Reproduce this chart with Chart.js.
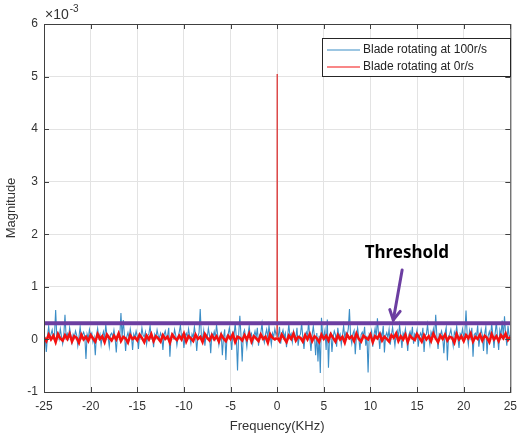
<!DOCTYPE html>
<html>
<head>
<meta charset="utf-8">
<script src="https://cdn.jsdelivr.net/npm/chart.js@4/dist/chart.umd.min.js"></script>
<style>
  html, body { margin: 0; padding: 0; background: #fff; }
  #wrap { position: relative; width: 524px; height: 438px; }
</style>
</head>
<body>
<div id="wrap"><canvas id="c"></canvas></div>
<script>
// frequency grids in KHz
const blueFreq = Array.from({ length: 401 }, (_, i) => -25 + i * 0.125);
const redFreq = Array.from({ length: 201 }, (_, i) => -25 + i * 0.25);

// magnitudes in units of 1e-3
const blueMag = [
  0.08,0.02,-0.24,0.06,0.25,0.04,0.10,0.18,0.03,0.07,0.56,0.05,0.12,0.01,0.20,0.06,-0.08,0.09,0.47,0.04,
  0.11,0.02,0.22,0.07,-0.06,0.10,0.04,0.16,0.08,-0.12,0.05,0.24,0.03,0.09,0.14,0.06,-0.37,0.10,0.02,0.19,
  0.07,0.12,-0.05,0.04,-0.30,0.08,0.21,0.03,0.10,-0.10,0.06,0.15,0.02,0.28,0.07,0.04,-0.14,0.09,0.12,0.05,
  0.18,0.03,-0.25,0.08,0.11,0.06,0.50,0.04,0.37,0.09,-0.22,0.05,0.13,0.02,0.20,0.07,-0.20,0.10,0.04,0.16,
  0.06,-0.18,0.09,0.03,0.22,0.08,0.05,0.14,-0.09,0.07,0.11,0.26,0.02,0.06,-0.15,0.10,0.04,0.18,0.07,0.03,
  0.12,0.05,-0.20,0.09,0.16,0.04,0.07,0.22,-0.33,0.06,0.10,0.03,0.19,0.08,-0.11,0.05,0.14,0.27,0.04,0.09,
  -0.16,0.07,0.12,0.03,0.20,0.06,-0.08,0.10,0.04,0.24,0.08,-0.22,0.05,0.13,0.58,0.06,0.02,0.17,-0.12,0.09,
  0.04,0.21,0.07,-0.26,0.11,0.05,0.15,0.03,0.28,0.08,-0.10,0.06,0.12,-0.30,0.04,0.19,-0.39,0.07,0.10,0.22,
  0.05,-0.20,0.13,0.08,0.30,0.04,-0.59,0.10,0.45,0.06,-0.42,0.12,0.18,0.03,-0.14,0.09,0.25,0.05,0.11,-0.08,
  0.07,0.16,0.04,0.22,-0.12,0.08,0.13,0.30,0.05,-0.06,0.10,0.19,0.03,0.26,0.07,-0.10,0.12,0.05,0.20,0.09,
  0.14,0.06,0.24,-0.08,0.10,0.18,0.04,0.12,-0.15,0.07,0.29,0.05,0.11,-0.05,0.16,0.08,0.03,0.22,-0.12,0.06,
  0.10,0.31,0.04,-0.18,0.08,0.14,0.06,0.34,0.03,-0.22,0.09,0.25,0.05,-0.30,0.12,-0.42,0.07,-0.64,0.41,0.10,
  0.06,0.18,-0.20,0.38,-0.54,0.08,0.12,-0.24,0.04,0.16,0.09,-0.14,0.22,0.05,0.10,-0.10,0.07,0.26,0.03,0.13,
  0.08,0.20,0.58,0.05,-0.08,0.11,0.17,-0.28,0.06,0.22,0.04,-0.20,0.09,0.14,0.06,0.24,-0.12,0.07,-0.63,0.10,
  0.05,0.16,-0.14,0.08,0.21,0.04,0.40,0.09,-0.18,0.12,0.06,0.26,-0.25,0.07,0.13,0.03,0.19,-0.10,0.08,0.23,
  0.05,-0.12,0.10,0.17,0.04,0.27,0.08,-0.16,0.12,0.06,0.20,0.03,-0.22,0.09,0.15,0.05,0.24,-0.08,0.11,0.07,
  0.18,-0.14,0.06,0.12,0.04,0.22,-0.24,0.08,0.10,0.28,0.05,-0.10,0.14,0.07,0.20,0.03,0.47,0.06,-0.18,0.11,
  0.08,0.16,0.04,-0.26,0.12,0.23,-0.40,0.06,0.10,0.19,0.05,-0.12,0.14,0.08,0.25,0.03,-0.16,0.11,0.07,0.20,
  0.05,0.13,0.55,0.08,-0.10,0.17,0.04,0.22,-0.33,0.09,0.12,0.06,0.27,-0.14,0.05,0.19,0.08,-0.22,0.11,0.24,
  -0.28,0.07,0.15,0.04,0.30,0.09,-0.16,0.12,0.33,0.05,-0.20,0.18,0.08,0.36,0.04,0.44,0.10,-0.12,0.26,0.06,
  0.08
];

const redMag = [
  0.04,-0.03,0.09,0.00,0.07,-0.05,0.10,0.02,-0.02,0.08,0.01,0.11,-0.04,0.06,0.03,-0.06,0.09,0.00,0.05,-0.03,
  0.08,0.02,-0.04,0.10,0.01,0.06,-0.05,0.09,0.03,-0.02,0.07,0.00,0.11,-0.03,0.05,0.02,-0.06,0.08,0.01,0.04,
  -0.02,0.09,0.03,-0.05,0.07,0.00,0.10,-0.03,0.06,0.02,-0.04,0.08,0.01,0.05,-0.06,0.09,0.03,-0.01,0.07,0.00,
  0.11,-0.04,0.06,0.02,-0.03,0.09,0.01,0.05,-0.05,0.10,0.03,-0.02,0.08,0.00,0.06,-0.04,0.09,0.02,-0.03,0.07,
  0.01,0.10,-0.05,0.05,0.03,-0.02,0.08,0.00,0.11,-0.04,0.06,0.02,-0.03,0.09,0.01,0.05,-0.06,0.10,0.03,0.00,
  0.06,-0.03,0.09,0.02,-0.05,0.07,0.01,0.11,-0.02,0.05,0.03,-0.04,0.08,0.00,0.10,-0.03,0.06,0.02,-0.05,0.09,
  0.01,0.07,-0.02,0.10,0.03,-0.04,0.08,0.00,0.05,-0.06,0.09,0.02,0.06,-0.03,0.11,0.01,-0.04,0.07,0.03,0.00,
  0.09,-0.05,0.06,0.02,0.10,-0.02,0.05,0.01,-0.04,0.08,0.03,0.11,-0.03,0.06,0.00,0.09,-0.05,0.07,0.02,-0.01,
  0.10,0.03,-0.04,0.08,0.00,0.06,-0.03,0.11,0.02,-0.05,0.07,0.01,0.09,-0.02,0.05,0.03,-0.06,0.10,0.00,0.06,
  -0.03,0.08,0.02,0.11,-0.04,0.05,0.01,0.09,-0.02,0.07,0.03,-0.05,0.10,0.00,0.06,-0.03,0.08,0.02,0.11,-0.01,
  0.05
];

// the carrier peak of the static blade
const spikeFreq = [-0.02, 0, 0.02];
const spikeMag = [0.03, 5.05, 0.03];

const thresholdFreq = [-25, 25];
const thresholdMag = [0.31, 0.31];

const xTicks = [-25, -20, -15, -10, -5, 0, 5, 10, 15, 20, 25];
const yTicks = [-1, 0, 1, 2, 3, 4, 5, 6];

const seriesNames = ["Blade rotating at 100r/s", "Blade rotating at 0r/s"];
const annotationText = "Threshold";

const BLUE = "#3b8dc6";
const RED = "#f41010";
const SPIKE = "#dc4a4a";
const PURPLE = "#6c3ea1";
const AXIS = "#404040";
const FONT = "'Liberation Sans', Arial, sans-serif";

const toPoints = (xs, ys) => xs.map((x, i) => ({ x, y: ys[i] }));

const redPoints = toPoints(redFreq, redMag).filter(p => p.x !== 0)
  .concat(toPoints(spikeFreq, spikeMag))
  .sort((a, b) => a.x - b.x);

const isSpike = ctx => Math.max(ctx.p0.parsed.y, ctx.p1.parsed.y) > 1;

// box, inward ticks, exponent label, legend and threshold annotation
const decor = {
  id: "decor",
  afterDraw(chart) {
    const { ctx, chartArea: a, scales: { x, y } } = chart;
    ctx.save();
    ctx.strokeStyle = AXIS;
    ctx.lineWidth = 1;
    ctx.strokeRect(a.left + 0.5, a.top + 0.5, a.right - a.left, a.bottom - a.top);
    ctx.beginPath();
    xTicks.forEach(v => {
      const px = Math.round(x.getPixelForValue(v)) + 0.5;
      ctx.moveTo(px, a.bottom); ctx.lineTo(px, a.bottom - 5);
      ctx.moveTo(px, a.top); ctx.lineTo(px, a.top + 5);
    });
    yTicks.forEach(v => {
      const py = Math.round(y.getPixelForValue(v)) + 0.5;
      ctx.moveTo(a.left, py); ctx.lineTo(a.left + 5, py);
      ctx.moveTo(a.right, py); ctx.lineTo(a.right - 5, py);
    });
    ctx.stroke();

    // x10^-3
    ctx.fillStyle = "#333";
    ctx.textBaseline = "alphabetic";
    ctx.textAlign = "left";
    ctx.font = "14px " + FONT;
    ctx.fillText("\u00d710", a.left + 1, a.top - 5);
    const w = ctx.measureText("\u00d710").width;
    ctx.font = "10px " + FONT;
    ctx.fillText("-3", a.left + 2 + w, a.top - 12);

    // legend
    const lx = 322, ly = 38, lw = 188, lh = 38;
    ctx.fillStyle = "#fff";
    ctx.fillRect(lx, ly, lw, lh);
    ctx.strokeStyle = "#262626";
    ctx.strokeRect(lx + 0.5, ly + 0.5, lw, lh);
    ctx.font = "12px " + FONT;
    ctx.textBaseline = "middle";
    [BLUE, RED].forEach((col, i) => {
      const yy = ly + 12 + i * 17;
      ctx.strokeStyle = col;
      ctx.lineWidth = 1.2;
      ctx.beginPath(); ctx.moveTo(lx + 5, yy); ctx.lineTo(lx + 38, yy); ctx.stroke();
      ctx.fillStyle = "#222";
      ctx.fillText(seriesNames[i], lx + 41, yy);
    });

    // threshold arrow and label
    const tx = x.getPixelForValue(12.45), ty = y.getPixelForValue(0.37);
    const sx = x.getPixelForValue(13.4), sy = y.getPixelForValue(1.32);
    const ang = Math.atan2(ty - sy, tx - sx);
    ctx.strokeStyle = PURPLE;
    ctx.lineWidth = 3;
    ctx.lineCap = "round";
    ctx.beginPath(); ctx.moveTo(sx, sy); ctx.lineTo(tx, ty); ctx.stroke();
    ctx.beginPath();
    ctx.moveTo(tx - 11 * Math.cos(ang - 0.5), ty - 11 * Math.sin(ang - 0.5));
    ctx.lineTo(tx, ty);
    ctx.lineTo(tx - 11 * Math.cos(ang + 0.5), ty - 11 * Math.sin(ang + 0.5));
    ctx.stroke();
    ctx.fillStyle = "#000";
    ctx.font = "bold 17px 'Noto Sans', sans-serif";
    ctx.textAlign = "center";
    ctx.fillText(annotationText, x.getPixelForValue(13.9), y.getPixelForValue(1.65));
    ctx.restore();
  }
};

new Chart(document.getElementById("c"), {
  type: "line",
  data: {
    datasets: [
      { label: "Threshold", data: toPoints(thresholdFreq, thresholdMag), borderColor: PURPLE, borderWidth: 4, order: 0 },
      {
        label: seriesNames[1], data: redPoints, borderColor: RED, borderWidth: 2.6, order: 1,
        segment: {
          borderColor: ctx => isSpike(ctx) ? SPIKE : undefined,
          borderWidth: ctx => isSpike(ctx) ? 1.3 : undefined
        }
      },
      { label: seriesNames[0], data: toPoints(blueFreq, blueMag), borderColor: BLUE, borderWidth: 1.1, order: 2 }
    ]
  },
  options: {
    responsive: true,
    maintainAspectRatio: false,
    animation: false,
    events: [],
    elements: { point: { radius: 0 }, line: { tension: 0 } },
    layout: { padding: { left: 0, right: 9, top: 24, bottom: 0 } },
    plugins: { legend: { display: false }, tooltip: { enabled: false } },
    scales: {
      x: {
        type: "linear", min: -25, max: 25,
        afterFit: s => { s.height = 46; },
        afterBuildTicks: s => { s.ticks = xTicks.map(v => ({ value: v })); },
        grid: { color: "#e3e3e3", drawTicks: false },
        border: { display: false },
        ticks: { color: "#333", font: { family: FONT, size: 12 }, padding: 7, maxRotation: 0 },
        title: { display: true, text: "Frequency(KHz)", color: "#333", font: { family: FONT, size: 13 }, padding: { top: 2 } }
      },
      y: {
        min: -1, max: 6,
        afterFit: s => { s.width = 44; },
        afterBuildTicks: s => { s.ticks = yTicks.map(v => ({ value: v })); },
        grid: { color: "#e3e3e3", drawTicks: false },
        border: { display: false },
        ticks: { color: "#333", font: { family: FONT, size: 12 }, padding: 6 },
        title: { display: true, text: "Magnitude", color: "#333", font: { family: FONT, size: 13 }, padding: { bottom: 2 } }
      }
    }
  },
  plugins: [decor]
});
</script>
</body>
</html>
